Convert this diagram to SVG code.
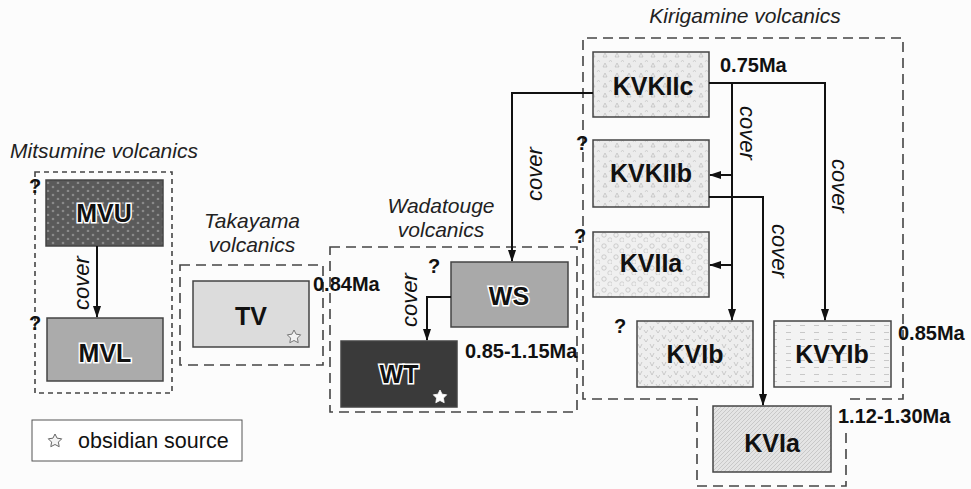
<svg xmlns="http://www.w3.org/2000/svg" width="971" height="489" viewBox="0 0 971 489">
<style>
.bg{fill:#fcfcfc}
.grp{fill:none;stroke:#444;stroke-width:1.6;stroke-dasharray:10 6}
.grp2{fill:none;stroke:#444;stroke-width:1.6;stroke-dasharray:5 4}
.box{stroke:#444;stroke-width:1.5}
.lbl{font-family:"Liberation Sans",Arial,sans-serif;font-style:italic;font-size:21px;fill:#222;text-anchor:middle}
.nt{font-family:"Liberation Sans",Arial,sans-serif;font-weight:bold;font-size:25px;fill:#111;text-anchor:middle}
.halo{stroke:#fff;stroke-width:3;paint-order:stroke}
.age{font-family:"Liberation Sans",Arial,sans-serif;font-weight:bold;font-size:20px;fill:#111}
.q{font-family:"Liberation Sans",Arial,sans-serif;font-weight:bold;font-size:20px;fill:#111}
.cv{font-family:"Liberation Sans",Arial,sans-serif;font-style:italic;font-size:22px;fill:#111;text-anchor:middle}
.ln{fill:none;stroke:#111;stroke-width:2}
</style>
<defs>
<marker id="ah" markerWidth="12" markerHeight="10" refX="11" refY="5" orient="auto" markerUnits="userSpaceOnUse">
<path d="M0,1 L12,5 L0,9 Z" fill="#111"/>
</marker>
<pattern id="pDots" width="10" height="8" patternUnits="userSpaceOnUse">
<rect width="10" height="8" fill="#5a5a5a"/>
<circle cx="3" cy="3" r="1.3" fill="#8a8a8a"/>
<circle cx="8" cy="7" r="1.3" fill="#8a8a8a"/>
</pattern>
<pattern id="pTri" width="12" height="10" patternUnits="userSpaceOnUse">
<rect width="12" height="10" fill="#ececec"/>
<path d="M3,7 L5,3 L7,7 Z" fill="none" stroke="#bbb" stroke-width="0.7"/>
<path d="M9,2 L10.5,0 L12,2" fill="none" stroke="#c6c6c6" stroke-width="0.7"/>
</pattern>
<pattern id="pCirc" width="12" height="11" patternUnits="userSpaceOnUse">
<rect width="12" height="11" fill="#f0f0f0"/>
<circle cx="4" cy="4" r="2.2" fill="none" stroke="#bbb" stroke-width="0.7"/>
<circle cx="10" cy="9" r="2.2" fill="none" stroke="#c4c4c4" stroke-width="0.7"/>
</pattern>
<pattern id="pV" width="12" height="9" patternUnits="userSpaceOnUse">
<rect width="12" height="9" fill="#eeeeee"/>
<path d="M2,2 L4,6 L6,2 M8,6 L10,9 L12,6" fill="none" stroke="#c0c0c0" stroke-width="0.8"/>
</pattern>
<pattern id="pH" width="14" height="7" patternUnits="userSpaceOnUse">
<rect width="14" height="7" fill="#f3f3f3"/>
<path d="M2,3.5 L7,3.5" stroke="#bdbdbd" stroke-width="0.8"/>
</pattern>
<pattern id="pDiag" width="4" height="4" patternUnits="userSpaceOnUse">
<rect width="4" height="4" fill="#e4e4e4"/>
<path d="M0,4 L4,0" stroke="#c2c2c2" stroke-width="0.8"/>
</pattern>
</defs>
<rect class="bg" x="0" y="0" width="971" height="489"/>

<g id="mitsumine">
<text class="lbl" x="104" y="158">Mitsumine volcanics</text>
<rect class="grp2" x="35" y="172" width="137" height="221"/>
</g>
<g id="MVU">
<rect class="box" x="46" y="180" width="117" height="66" fill="url(#pDots)"/>
<text class="nt halo" x="104" y="222">MVU</text>
<text class="q" x="29" y="193">?</text>
</g>
<g id="MVL">
<rect class="box" x="47" y="318" width="116" height="63" fill="#ababab"/>
<text class="nt halo" x="105" y="362">MVL</text>
<text class="q" x="29" y="330">?</text>
</g>

<g id="takayama">
<text class="lbl" x="252" y="228">Takayama</text>
<text class="lbl" x="252" y="252">volcanics</text>
<rect class="grp" x="180" y="265" width="143" height="100"/>
</g>
<g id="TV">
<rect class="box" x="193" y="281" width="116" height="66" fill="#dcdcdc"/>
<text class="nt" x="251" y="325">TV</text>
<polygon points="294,330 296.1,334.2 300.7,334.8 297.4,338.1 298.2,342.7 294,340.5 289.8,342.7 290.6,338.1 287.3,334.8 291.9,334.2" fill="#f2f2f2" stroke="#777" stroke-width="1"/>
<text class="age" x="313" y="291">0.84Ma</text>
</g>

<g id="wadatouge">
<text class="lbl" x="441" y="213">Wadatouge</text>
<text class="lbl" x="441" y="237">volcanics</text>
<rect class="grp" x="330" y="247" width="247" height="165"/>
</g>
<g id="WS">
<rect class="box" x="451" y="262" width="117" height="65" fill="#a9a9a9"/>
<text class="nt halo" x="509" y="305">WS</text>
<text class="q" x="428" y="273">?</text>
</g>
<g id="WT">
<rect class="box" x="341" y="341" width="116" height="66" fill="#3a3a3a"/>
<text class="nt halo" x="399" y="383">WT</text>
<polygon points="440,390 442.1,394.2 446.7,394.8 443.4,398.1 444.2,402.7 440,400.5 435.8,402.7 436.6,398.1 433.3,394.8 437.9,394.2" fill="#fff" stroke="#fff" stroke-width="0.8"/>
<text class="age" x="465" y="358">0.85-1.15Ma</text>
</g>

<g id="kirigamine">
<text class="lbl" x="745" y="23">Kirigamine volcanics</text>
<path class="grp" d="M846,433 V486 H697 V399 H583 V38 H903 V399 H846"/>
</g>
<g id="KVKIIc">
<rect class="box" x="593" y="52" width="116" height="65" fill="url(#pTri)"/>
<text class="nt" x="653" y="95">KVKIIc</text>
<text class="age" x="720" y="72">0.75Ma</text>
</g>
<g id="KVKIIb">
<rect class="box" x="593" y="140" width="116" height="67" fill="url(#pTri)"/>
<text class="nt" x="651" y="182">KVKIIb</text>
<text class="q" x="576" y="150">?</text>
</g>
<g id="KVIIa">
<rect class="box" x="593" y="232" width="116" height="65" fill="url(#pCirc)"/>
<text class="nt" x="651" y="272">KVIIa</text>
<text class="q" x="574" y="243">?</text>
</g>
<g id="KVIb">
<rect class="box" x="637" y="321" width="116" height="66" fill="url(#pV)"/>
<text class="nt" x="695" y="363">KVIb</text>
<text class="q" x="614" y="333">?</text>
</g>
<g id="KVYIb">
<rect class="box" x="774" y="321" width="117" height="66" fill="url(#pH)"/>
<text class="nt" x="832" y="363">KVYIb</text>
<text class="age" x="898" y="340">0.85Ma</text>
</g>
<g id="KVIa">
<rect class="box" x="713" y="406" width="118" height="66" fill="url(#pDiag)"/>
<text class="nt" x="772" y="452">KVIa</text>
<text class="age" x="838" y="423">1.12-1.30Ma</text>
</g>

<g id="legend">
<rect x="32" y="420" width="210" height="41" fill="#fff" stroke="#555" stroke-width="1"/>
<polygon points="55,434 57.1,438.2 61.7,438.8 58.4,442.1 59.2,446.7 55,444.5 50.8,446.7 51.6,442.1 48.3,438.8 52.9,438.2" fill="#f4f4f4" stroke="#666" stroke-width="1"/>
<text x="78" y="448" font-family="Liberation Sans, Arial, sans-serif" font-size="21.5" fill="#111">obsidian source</text>
</g>

<g id="connectors">
<line class="ln" x1="97" y1="246" x2="97" y2="317" marker-end="url(#ah)"/>
<text class="cv" transform="translate(89,283) rotate(-90)">cover</text>
<path class="ln" d="M451,297 H427 V340" marker-end="url(#ah)"/>
<text class="cv" transform="translate(417,300) rotate(-90)">cover</text>
<path class="ln" d="M593,93 H512 V261" marker-end="url(#ah)"/>
<text class="cv" transform="translate(542,174) rotate(-90)">cover</text>
<path class="ln" d="M709,83 H825 V320" marker-end="url(#ah)"/>
<path class="ln" d="M732,83 V320" marker-end="url(#ah)"/>
<line class="ln" x1="732" y1="175" x2="710" y2="175" marker-end="url(#ah)"/>
<line class="ln" x1="732" y1="265" x2="710" y2="265" marker-end="url(#ah)"/>
<text class="cv" transform="translate(740,133) rotate(90)">cover</text>
<text class="cv" transform="translate(832,186) rotate(90)">cover</text>
<path class="ln" d="M709,197 H763 V405" marker-end="url(#ah)"/>
<text class="cv" transform="translate(772,251) rotate(90)">cover</text>
</g>
</svg>
